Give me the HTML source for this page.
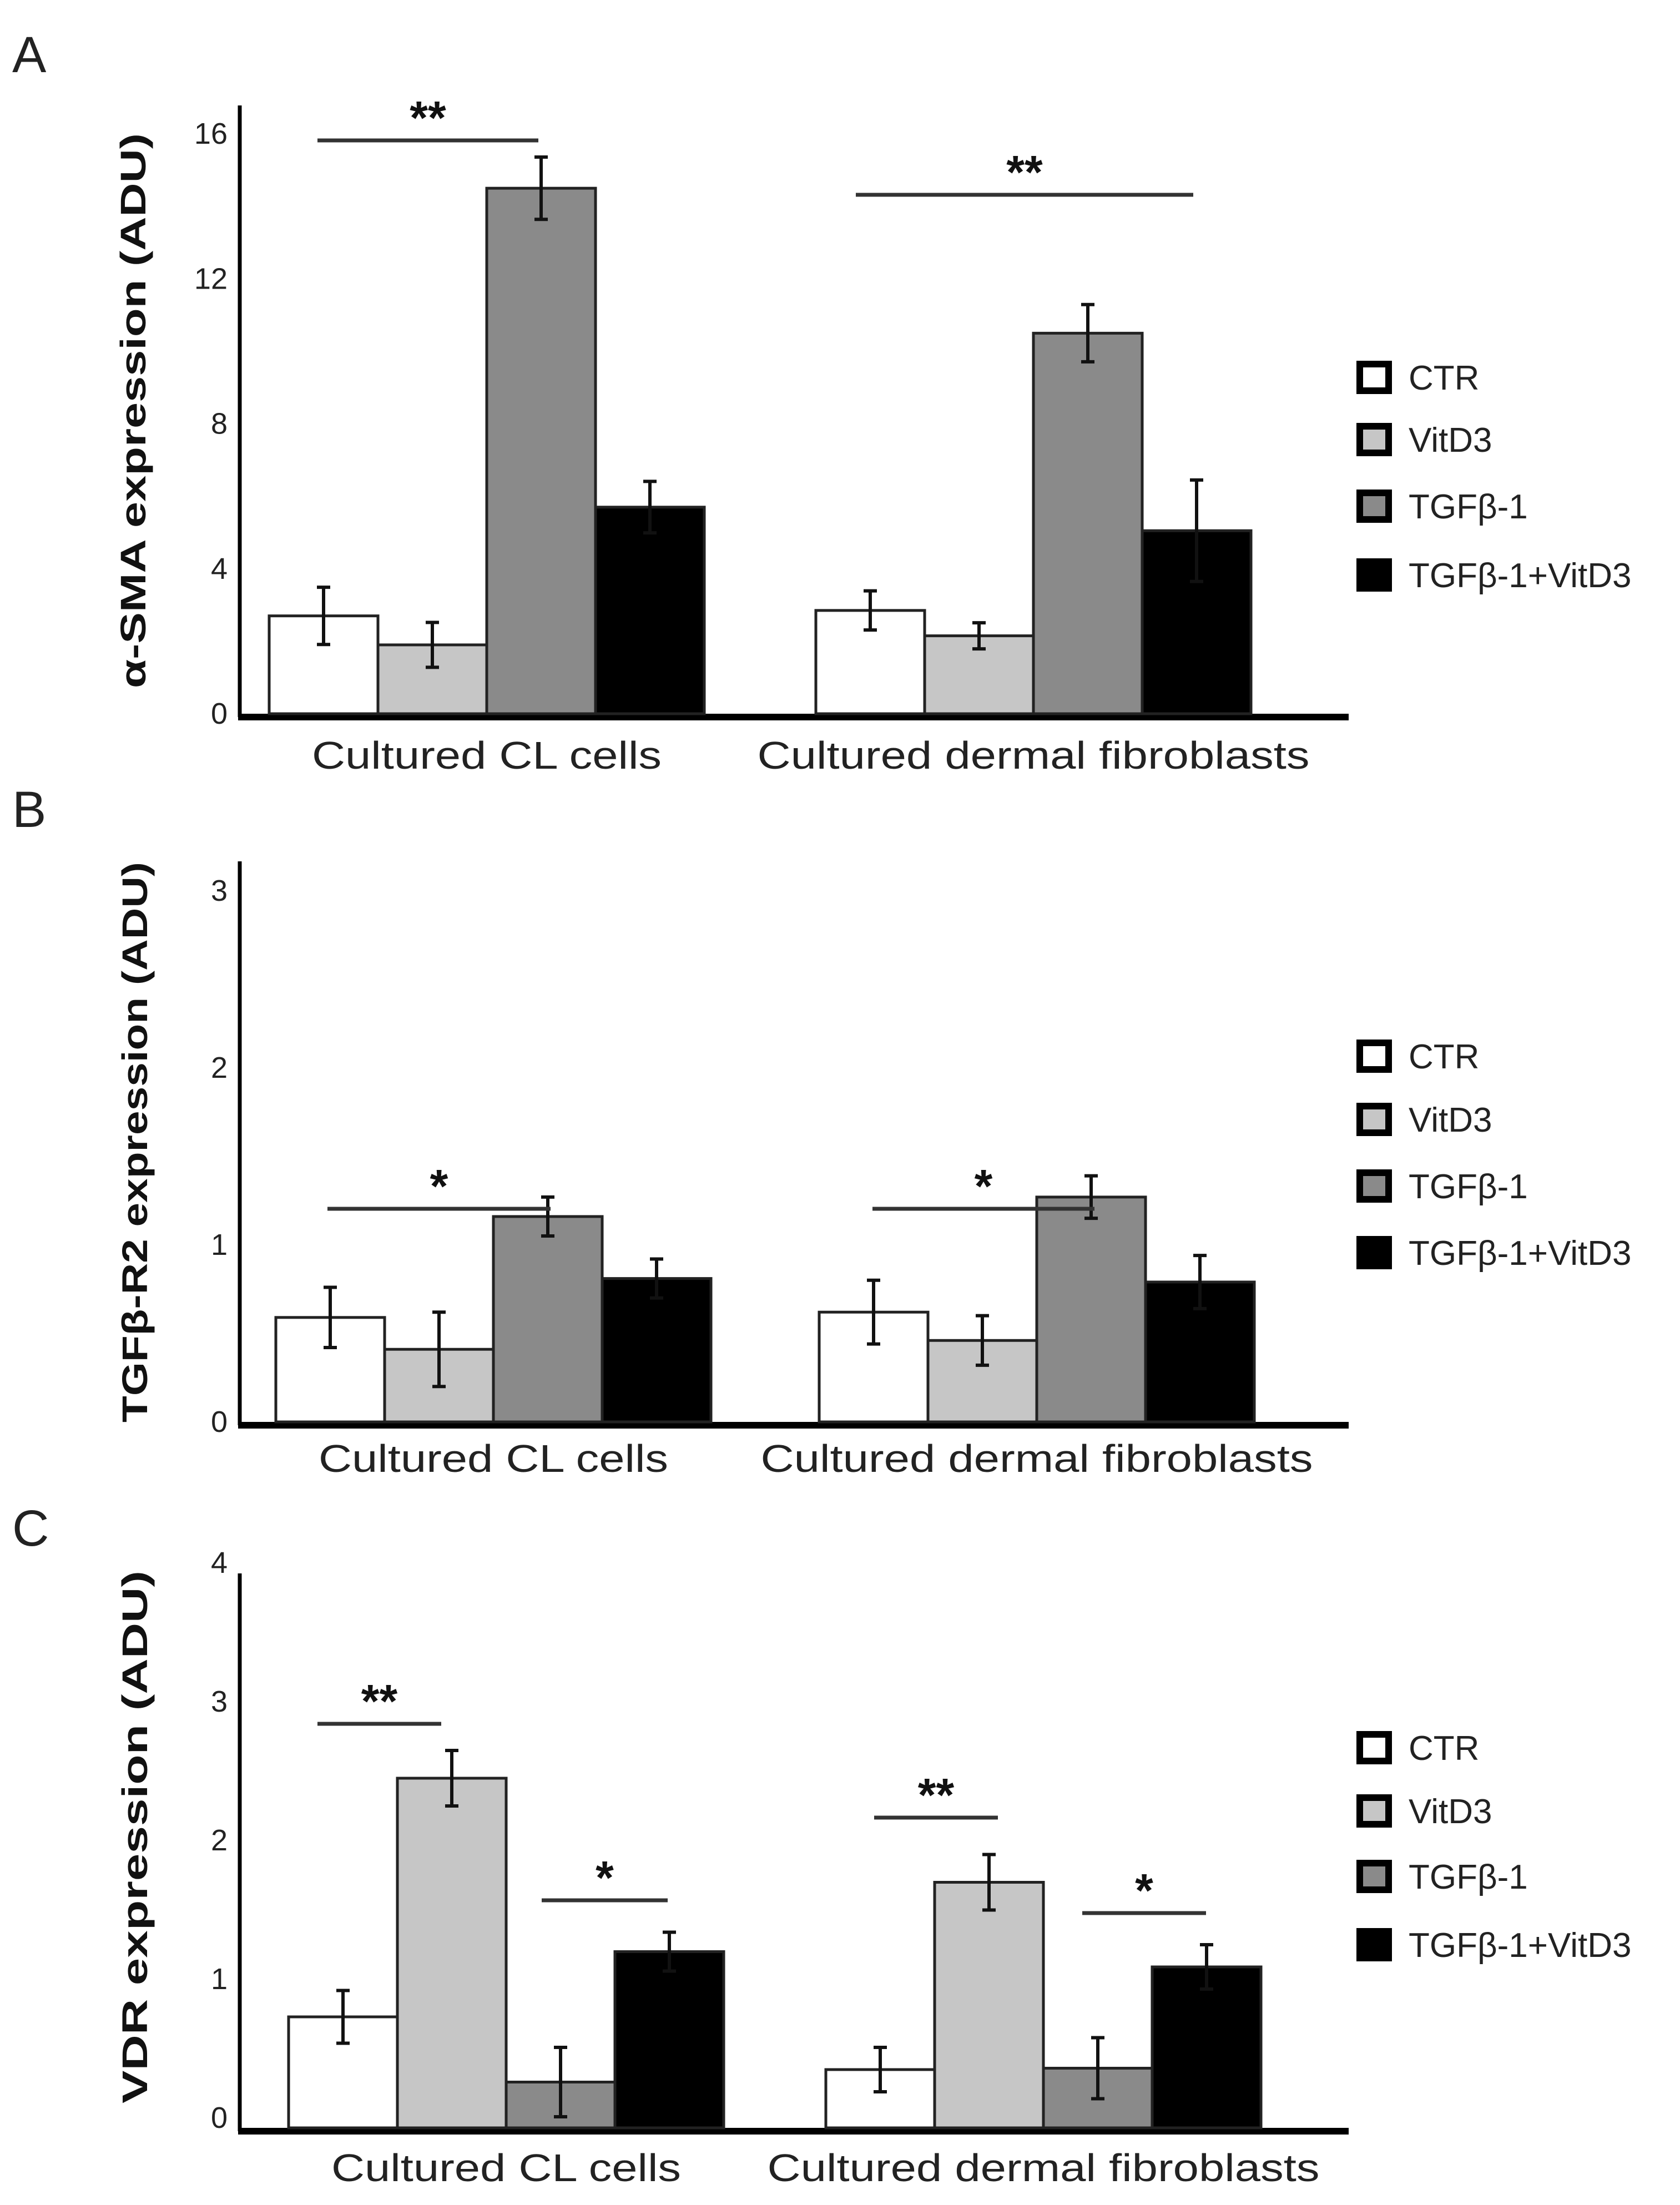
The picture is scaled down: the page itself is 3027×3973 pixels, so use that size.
<!DOCTYPE html>
<html><head><meta charset="utf-8"><style>
html,body{margin:0;padding:0;background:#fff}
svg{display:block}
text{font-family:"Liberation Sans",sans-serif}
</style></head><body>
<svg id="fig" width="3027" height="3973" viewBox="0 0 3027 3973" xmlns="http://www.w3.org/2000/svg"></svg>
<script>
const groups = ["Cultured CL cells", "Cultured dermal fibroblasts"];
const seriesNames = ["CTR", "VitD3", "TGFβ-1", "TGFβ-1+VitD3"];
const seriesColors = ["#ffffff", "#c6c6c6", "#8a8a8a", "#000000"];
// Panel A
const aTicks = [0, 4, 8, 12, 16];
const aCL = [2.7, 1.9, 14.5, 5.7];
const aCLErr = [0.79, 0.62, 0.86, 0.71];
const aDerm = [2.85, 2.15, 10.5, 5.05];
const aDermErr = [0.54, 0.36, 0.79, 1.4];
// Panel B
const bTicks = [0, 1, 2, 3];
const bCL = [0.59, 0.41, 1.16, 0.81];
const bCLErr = [0.17, 0.21, 0.11, 0.11];
const bDerm = [0.62, 0.46, 1.27, 0.79];
const bDermErr = [0.18, 0.14, 0.12, 0.15];
// Panel C
const cTicks = [0, 1, 2, 3, 4];
const cCL = [0.8, 2.52, 0.33, 1.27];
const cCLErr = [0.19, 0.2, 0.25, 0.14];
const cDerm = [0.42, 1.77, 0.43, 1.16];
const cDermErr = [0.16, 0.2, 0.22, 0.16];

const NS = "http://www.w3.org/2000/svg";
const svg = document.getElementById("fig");
function mk(tag, attrs, parent, txt) {
  const e = document.createElementNS(NS, tag);
  for (const k in attrs) e.setAttribute(k, attrs[k]);
  if (txt !== undefined) e.textContent = txt;
  (parent || svg).appendChild(e);
  return e;
}

function panel(cfg) {
  const g = mk("g", {});
  
  
  const y = v => cfg.base - v * cfg.unit;
  const L = mk("text", {x: 22, y: cfg.letterY, "font-size": 92, fill: "#222"}, g, cfg.letter);
  
  
  const ya = mk("line", {x1: cfg.ax, y1: cfg.top, x2: cfg.ax, y2: cfg.base + 6, stroke: "#000", "stroke-width": 7}, g);
  
  
  const xa = mk("line", {x1: cfg.ax - 3, y1: cfg.base + 6, x2: 2430, y2: cfg.base + 6, stroke: "#000", "stroke-width": 12}, g);
  
  
  cfg.ticks.forEach(t => {
    const tl = mk("text", {x: cfg.ax - 22, y: y(t) + cfg.tickOff, "font-size": 54, "text-anchor": "end", fill: "#222"}, g, String(t));
    
    
  });
  const yt = mk("text", {x: 0, y: 0, "font-size": 64, "font-weight": "bold", "text-anchor": "middle", fill: "#111",
    transform: `translate(${cfg.titleX},${cfg.titleY}) rotate(-90)`, textLength: cfg.titleLen, lengthAdjust: "spacingAndGlyphs"}, g, cfg.title);
  
  
  const starts = [cfg.g1, cfg.g2];
  const vals = [cfg.cl, cfg.derm], errs = [cfg.clErr, cfg.dermErr];
  const bw = 196;
  for (let gi = 0; gi < 2; gi++) {
    for (let s = 0; s < 4; s++) {
      const x0 = starts[gi] + s * bw, v = vals[gi][s], e = errs[gi][s];
      const r = mk("rect", {x: x0, y: y(v), width: bw, height: cfg.base - y(v), fill: seriesColors[s], stroke: "#222", "stroke-width": 5}, g);
      
      
      const cx = x0 + bw / 2;
      const eb = mk("path", {d: `M${cx},${y(v + e)}V${y(v - e)}M${cx - 12},${y(v + e)}H${cx + 12}M${cx - 12},${y(v - e)}H${cx + 12}`, stroke: "#111", "stroke-width": 6, fill: "none"}, g);
      
      
    }
    const xl = mk("text", {x: starts[gi] + 392, y: cfg.labY, "font-size": 70, "text-anchor": "middle", fill: "#222",
      textLength: gi ? 995 : 630, lengthAdjust: "spacingAndGlyphs"}, g, groups[gi]);
    
    
  }
  cfg.sig.forEach(sg => {
    const l = mk("line", {x1: sg[0], y1: sg[2], x2: sg[1], y2: sg[2], stroke: "#333", "stroke-width": 7}, g);
    
    
    const st = mk("text", {x: (sg[0] + sg[1]) / 2, y: sg[2] - 12, "font-size": 84, "text-anchor": "middle", fill: "#111", "font-weight": "bold"}, g, sg[3]);
    
    
  });
  cfg.leg.forEach((ly, i) => {
    const lg = mk("g", {}, g);
    
    
    mk("rect", {x: 2450, y: ly - 24, width: 52, height: 48, fill: seriesColors[i], stroke: "#000", "stroke-width": 12}, lg);
    mk("text", {x: 2538, y: ly + 22, "font-size": 62, fill: "#222"}, lg, seriesNames[i]);
  });
}

panel({name: "panel-a", letter: "A", letterY: 130, ax: 432, top: 190, base: 1286, unit: 65.3, ticks: aTicks, tickOff: 18,
  title: "α-SMA expression (ADU)", titleX: 262, titleY: 740, titleLen: 1000,
  g1: 485, g2: 1470, cl: aCL, clErr: aCLErr, derm: aDerm, dermErr: aDermErr, labY: 1385,
  sig: [[572, 970, 253, "**"], [1542, 2150, 351, "**"]], leg: [680, 792, 912, 1036]});
panel({name: "panel-b", letter: "B", letterY: 1490, ax: 432, top: 1552, base: 2562, unit: 319, ticks: bTicks, tickOff: 18,
  title: "TGFβ-R2 expression (ADU)", titleX: 265, titleY: 2058, titleLen: 1010,
  g1: 497, g2: 1476, cl: bCL, clErr: bCLErr, derm: bDerm, dermErr: bDermErr, labY: 2652,
  sig: [[590, 992, 2178, "*"], [1572, 1972, 2178, "*"]], leg: [1903, 2017, 2137, 2257]});
panel({name: "panel-c", letter: "C", letterY: 2785, ax: 432, top: 2835, base: 3834, unit: 250, ticks: cTicks, tickOff: 0,
  title: "VDR expression (ADU)", titleX: 265, titleY: 3310, titleLen: 960,
  g1: 520, g2: 1488, cl: cCL, clErr: cCLErr, derm: cDerm, dermErr: cDermErr, labY: 3930,
  sig: [[572, 795, 3106, "**"], [976, 1203, 3424, "*"], [1575, 1798, 3275, "**"], [1950, 2173, 3447, "*"]],
  leg: [3149, 3263, 3381, 3504]});
</script>
</body></html>
